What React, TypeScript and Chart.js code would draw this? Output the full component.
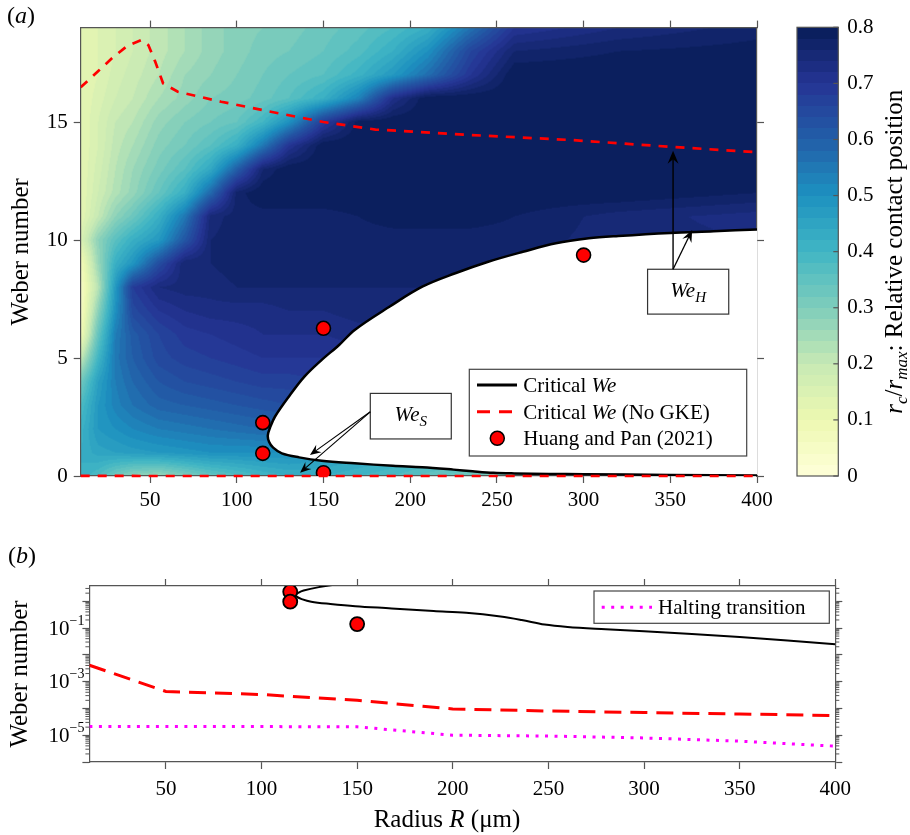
import React, { useEffect, useRef } from 'react';
import { Chart, registerables } from 'chart.js';
Chart.register(...registerables);

const SERIF = '"Liberation Serif", "Times New Roman", Times, serif';
const AXIS = '#555555';

// ---------------- data ----------------
const xTicks = [50, 100, 150, 200, 250, 300, 350, 400];
const weTicksLinear = [0, 5, 10, 15];
const logDecades = [1e-6, 1e-5, 1e-4, 1e-3, 1e-2, 1e-1, 1];
const logLabelExponents = [-1, -3, -5];
const cbTicks = [0, 0.1, 0.2, 0.3, 0.4, 0.5, 0.6, 0.7, 0.8];

// critical We curve (upper branch from R=400 to the nose, then lower branch back to R=400)
const critX = [400, 375, 350, 320, 303, 284, 265, 245, 226, 207, 188, 168, 159, 149, 139, 130, 122, 119.2, 117.9, 118.6, 121, 126, 136, 149, 168, 190, 207, 225, 236, 248, 260, 280, 300, 350, 400];
const critWe = [10.45, 10.37, 10.3, 10.17, 10.07, 9.86, 9.5, 9.08, 8.59, 8.02, 7.17, 6.19, 5.55, 4.92, 4.21, 3.36, 2.51, 2.05, 1.72, 1.45, 1.2, 0.96, 0.79, 0.65, 0.54, 0.43, 0.37, 0.27, 0.2, 0.135, 0.11, 0.09, 0.075, 0.046, 0.025];

// critical We without GKE (upper)
const noGkeUpperX = [10, 20, 28, 37, 45, 49, 53, 57.5, 66, 91, 124, 150, 180, 235, 292, 350, 400];
const noGkeUpperWe = [16.47, 17.15, 17.7, 18.23, 18.47, 18.26, 17.55, 16.64, 16.28, 15.86, 15.37, 15.0, 14.68, 14.45, 14.24, 13.95, 13.72];

// critical We without GKE (lower)
const noGkeLowerX = [10, 50, 100, 150, 200, 250, 300, 350, 400];
const noGkeLowerWe = [4.1e-3, 4.3e-4, 3.3e-4, 2.0e-4, 9.5e-5, 8.0e-5, 7.0e-5, 6.2e-5, 5.4e-5];

// halting transition
const haltX = [10, 50, 100, 150, 200, 250, 300, 350, 400];
const haltWe = [2.1e-5, 2.1e-5, 2.1e-5, 2.05e-5, 1.0e-5, 9.3e-6, 7.9e-6, 6.0e-6, 3.9e-6];

// Huang and Pan (2021)
const expX = [115, 115, 150, 150, 300];
const expWe = [2.26, 0.96, 0.14, 6.26, 9.36];

// relative contact position field r_c / r_max
const fieldX = [10, 20, 30, 40, 55, 70, 85, 100, 115, 130, 150, 170, 190, 210, 235, 260, 320, 400];
const fieldWe = [0, 1, 2, 3, 4, 5, 6, 7, 8, 9, 10, 11, 12, 13, 14, 15, 16, 17, 18, 19];
const field = [
  [.42, .38, .32, .28, .26, .30, .34, .37, .40, .42, .42, .40, .38, .35, .32, .30, .30, .30],
  [.42, .45, .46, .47, .48, .49, .50, .50, .50, .50, .48, .46, .44, .42, .40, .38, .36, .36],
  [.41, .48, .50, .52, .54, .55, .56, .57, .58, .58, .58, .58, .58, .58, .58, .58, .58, .58],
  [.38, .48, .53, .56, .59, .60, .61, .62, .63, .64, .65, .65, .65, .65, .65, .65, .65, .65],
  [.32, .46, .54, .58, .62, .64, .65, .66, .67, .67, .68, .68, .68, .68, .68, .68, .68, .68],
  [.20, .40, .55, .60, .65, .67, .68, .69, .70, .70, .70, .71, .72, .72, .72, .72, .72, .72],
  [.08, .34, .54, .61, .66, .69, .70, .71, .72, .72, .72, .73, .74, .75, .75, .75, .75, .75],
  [.05, .28, .50, .65, .70, .72, .73, .73, .73, .74, .74, .75, .75, .76, .76, .76, .76, .76],
  [.05, .22, .48, .68, .74, .75, .75, .76, .76, .76, .76, .76, .76, .76, .77, .77, .77, .77],
  [.07, .26, .42, .49, .64, .76, .76, .77, .77, .77, .77, .77, .77, .77, .77, .77, .77, .77],
  [.15, .28, .36, .42, .48, .62, .76, .77, .77, .77, .77, .77, .77, .77, .77, .77, .75, .74],
  [.12, .20, .28, .33, .42, .55, .75, .77, .77, .77, .77, .78, .79, .79, .79, .78, .75, .73],
  [.12, .18, .23, .27, .34, .42, .58, .77, .80, .80, .80, .80, .80, .80, .80, .80, .80, .78],
  [.12, .17, .22, .26, .31, .36, .44, .60, .76, .80, .80, .80, .80, .80, .80, .80, .80, .80],
  [.12, .16, .21, .24, .29, .32, .36, .42, .55, .70, .80, .80, .80, .80, .80, .80, .80, .80],
  [.12, .16, .20, .22, .27, .30, .32, .34, .40, .50, .68, .79, .80, .80, .80, .80, .80, .80],
  [.12, .15, .18, .20, .24, .27, .30, .31, .33, .36, .42, .53, .72, .80, .80, .80, .80, .80],
  [.12, .14, .17, .19, .22, .26, .28, .30, .32, .34, .36, .41, .48, .57, .70, .80, .80, .80],
  [.12, .14, .16, .18, .21, .24, .27, .29, .31, .32, .34, .37, .42, .50, .66, .76, .78, .79],
  [.12, .14, .16, .18, .21, .24, .27, .29, .30, .31, .33, .35, .38, .42, .56, .70, .74, .77],
];

// ---------------- colour map (YlGnBu, 0 .. 0.8) ----------------
const cmapHex = ['#ffffd9', '#edf8b1', '#c7e9b4', '#7fcdbb', '#41b6c4', '#1d91c0', '#225ea8', '#253494', '#081d58'];
const cmap = cmapHex.map(h => [parseInt(h.slice(1, 3), 16), parseInt(h.slice(3, 5), 16), parseInt(h.slice(5, 7), 16)]);
const CMIN = 0, CMAX = 0.8, NLEV = 40;
function colorFor(v: number): number[] {
  let lev = Math.floor(((v - CMIN) / (CMAX - CMIN)) * NLEV);
  lev = Math.max(0, Math.min(NLEV - 1, lev));
  const t = ((lev + 0.5) / NLEV) * (cmap.length - 1);
  const k = Math.min(cmap.length - 2, Math.floor(t));
  const f = t - k;
  return [0, 1, 2].map(c => Math.round(cmap[k][c] * (1 - f) + cmap[k + 1][c] * f));
}
function locate(arr: number[], v: number): [number, number] {
  let k = 0;
  while (k < arr.length - 2 && v > arr[k + 1]) k++;
  let t = (v - arr[k]) / (arr[k + 1] - arr[k]);
  t = Math.max(0, Math.min(1, t));
  return [k, t];
}

// ---------------- text helpers ----------------
type Piece = { t: string; it?: boolean; s: number; dy?: number };
function font(p: Piece) { return `${p.it ? 'italic ' : ''}${p.s}px ${SERIF}`; }
function drawRich(ctx: CanvasRenderingContext2D, pieces: Piece[], x: number, y: number, align: 'left' | 'center' | 'right') {
  let total = 0;
  for (const p of pieces) { ctx.font = font(p); total += ctx.measureText(p.t).width; }
  let cx = align === 'center' ? x - total / 2 : align === 'right' ? x - total : x;
  ctx.textAlign = 'left';
  ctx.textBaseline = 'alphabetic';
  for (const p of pieces) {
    ctx.font = font(p);
    ctx.fillText(p.t, cx, y + (p.dy || 0));
    cx += ctx.measureText(p.t).width;
  }
}
function drawArrow(ctx: CanvasRenderingContext2D, x1: number, y1: number, x2: number, y2: number, size: number, lw: number) {
  const a = Math.atan2(y2 - y1, x2 - x1);
  const c = Math.cos(a), s = Math.sin(a);
  ctx.lineWidth = lw;
  ctx.beginPath();
  ctx.moveTo(x1, y1);
  ctx.lineTo(x2 - size * 0.6 * c, y2 - size * 0.6 * s);
  ctx.stroke();
  const bx = x2 - size * c, by = y2 - size * s, w = size * 0.42;
  ctx.beginPath();
  ctx.moveTo(x2, y2);
  ctx.lineTo(bx + w * s, by - w * c);
  ctx.lineTo(x2 - size * 0.65 * c, y2 - size * 0.65 * s);
  ctx.lineTo(bx - w * s, by + w * c);
  ctx.closePath();
  ctx.fill();
}

const tickFont = { family: SERIF, size: 21 };
const pts = (xs: number[], ys: number[]) => xs.map((x, i) => ({ x, y: ys[i] }));

function fixedTicks(vals: number[]) {
  return (s: any) => { s.ticks = vals.map(v => ({ value: v })); };
}

export default function App() {
  const refA = useRef<HTMLCanvasElement>(null);
  const refCB = useRef<HTMLCanvasElement>(null);
  const refB = useRef<HTMLCanvasElement>(null);

  useEffect(() => {
    const charts: Chart[] = [];

    // ---------- panel (a) ----------
    const heatmap = {
      id: 'heatmap',
      beforeDraw(chart: any) {
        const { ctx, chartArea: a, scales } = chart;
        const xs = scales.x, ys = scales.y;
        const w = Math.round(a.right - a.left), h = Math.round(a.bottom - a.top);
        const off = document.createElement('canvas');
        off.width = w; off.height = h;
        const o = off.getContext('2d')!;
        const img = o.createImageData(w, h);
        const ci: number[] = [], ct: number[] = [];
        for (let i = 0; i < w; i++) {
          const [k, t] = locate(fieldX, xs.getValueForPixel(a.left + i + 0.5));
          ci.push(k); ct.push(t);
        }
        for (let j = 0; j < h; j++) {
          const [r, u] = locate(fieldWe, ys.getValueForPixel(a.top + j + 0.5));
          const row0 = field[r], row1 = field[r + 1];
          for (let i = 0; i < w; i++) {
            const k = ci[i], t = ct[i];
            const v0 = row0[k] * (1 - t) + row0[k + 1] * t;
            const v1 = row1[k] * (1 - t) + row1[k + 1] * t;
            const col = colorFor(v0 * (1 - u) + v1 * u);
            const p = (j * w + i) * 4;
            img.data[p] = col[0]; img.data[p + 1] = col[1]; img.data[p + 2] = col[2]; img.data[p + 3] = 255;
          }
        }
        o.putImageData(img, 0, 0);
        ctx.drawImage(off, a.left, a.top);
      },
    };

    const decorA = {
      id: 'decorA',
      afterDraw(chart: any) {
        const { ctx, scales } = chart;
        const px = (v: number) => scales.x.getPixelForValue(v);
        const py = (v: number) => scales.y.getPixelForValue(v);
        ctx.save();
        ctx.fillStyle = '#000';
        ctx.strokeStyle = '#000';
        // panel label
        drawRich(ctx, [{ t: '(', s: 24 }, { t: 'a', it: true, s: 24 }, { t: ')', s: 24 }], 7, 23, 'left');
        // y title
        ctx.save();
        ctx.translate(28, (chart.chartArea.top + chart.chartArea.bottom) / 2);
        ctx.rotate(-Math.PI / 2);
        drawRich(ctx, [{ t: 'Weber number', s: 25 }], 0, 0, 'center');
        ctx.restore();

        // We_S annotation
        const sx1 = px(177), sx2 = px(223.7), sy1 = py(3.5), sy2 = py(1.57);
        ctx.fillStyle = '#fff';
        ctx.fillRect(sx1, sy1, sx2 - sx1, sy2 - sy1);
        ctx.strokeStyle = '#333'; ctx.lineWidth = 1.2;
        ctx.strokeRect(sx1, sy1, sx2 - sx1, sy2 - sy1);
        ctx.fillStyle = '#000';
        drawRich(ctx, [{ t: 'We', it: true, s: 21 }, { t: 'S', it: true, s: 15, dy: 5 }], (sx1 + sx2) / 2, (sy1 + sy2) / 2 + 5, 'center');
        ctx.strokeStyle = '#000';
        drawArrow(ctx, sx1, py(2.72), px(142.2), py(0.89), 11, 1.1);
        drawArrow(ctx, sx1, py(2.72), px(136.5), py(0.14), 11, 1.1);

        // We_H annotation
        const hx1 = px(336.9), hx2 = px(383.7), hy1 = py(8.76), hy2 = py(6.86);
        ctx.fillStyle = '#fff';
        ctx.fillRect(hx1, hy1, hx2 - hx1, hy2 - hy1);
        ctx.strokeStyle = '#333'; ctx.lineWidth = 1.2;
        ctx.strokeRect(hx1, hy1, hx2 - hx1, hy2 - hy1);
        ctx.fillStyle = '#000';
        drawRich(ctx, [{ t: 'We', it: true, s: 21 }, { t: 'H', it: true, s: 15, dy: 5 }], (hx1 + hx2) / 2, (hy1 + hy2) / 2 + 5, 'center');
        ctx.strokeStyle = '#000';
        drawArrow(ctx, px(351.6), hy1, px(351.6), py(13.78), 13, 1.4);
        drawArrow(ctx, px(351.6), hy1, px(362.6), py(10.42), 12, 1.3);

        // legend
        const lx = 469.3, ly = 369.3, lw = 277.4, lh = 86.7;
        ctx.fillStyle = '#fff';
        ctx.fillRect(lx, ly, lw, lh);
        ctx.strokeStyle = '#444'; ctx.lineWidth = 1.2;
        ctx.strokeRect(lx, ly, lw, lh);
        const rows = [385, 411.7, 438.3];
        ctx.strokeStyle = '#000'; ctx.lineWidth = 3;
        ctx.beginPath(); ctx.moveTo(477, rows[0]); ctx.lineTo(517, rows[0]); ctx.stroke();
        ctx.strokeStyle = '#ff0000'; ctx.lineWidth = 3;
        ctx.setLineDash([13, 9]);
        ctx.beginPath(); ctx.moveTo(477, rows[1]); ctx.lineTo(517, rows[1]); ctx.stroke();
        ctx.setLineDash([]);
        ctx.fillStyle = '#ff0000'; ctx.strokeStyle = '#000'; ctx.lineWidth = 1.5;
        ctx.beginPath(); ctx.arc(497.3, rows[2], 7, 0, Math.PI * 2); ctx.fill(); ctx.stroke();
        ctx.fillStyle = '#000';
        drawRich(ctx, [{ t: 'Critical ', s: 21 }, { t: 'We', it: true, s: 21 }], 523.3, rows[0] + 7, 'left');
        drawRich(ctx, [{ t: 'Critical ', s: 21 }, { t: 'We', it: true, s: 21 }, { t: ' (No GKE)', s: 21 }], 523.3, rows[1] + 7, 'left');
        drawRich(ctx, [{ t: 'Huang and Pan (2021)', s: 21 }], 523.3, rows[2] + 7, 'left');
        ctx.restore();
      },
    };

    const axisCommon = {
      grid: { drawOnChartArea: false, tickLength: 7, color: AXIS, tickWidth: 1.2 },
      border: { color: AXIS, width: 1.2 },
    };

    charts.push(new Chart(refA.current!, {
      type: 'line',
      data: {
        datasets: [
          {
            label: 'Critical We', data: pts(critX, critWe), xAxisID: 'x', yAxisID: 'y',
            borderColor: '#000', borderWidth: 2.5, pointRadius: 0, tension: 0.35,
            fill: 'shape', backgroundColor: '#ffffff', order: 3,
          } as any,
          {
            label: 'Critical We (No GKE)', data: pts(noGkeUpperX, noGkeUpperWe), xAxisID: 'x', yAxisID: 'y',
            borderColor: '#ff0000', borderWidth: 2.7, borderDash: [9, 8], pointRadius: 0, tension: 0, fill: false, order: 2,
          },
          {
            label: 'Critical We (No GKE) lower', data: pts(noGkeLowerX, noGkeLowerWe), xAxisID: 'x', yAxisID: 'y',
            borderColor: '#ff0000', borderWidth: 2.7, borderDash: [9, 8], pointRadius: 0, tension: 0, fill: false, order: 2, clip: 4,
          } as any,
          {
            label: 'Huang and Pan (2021)', data: pts(expX, expWe), xAxisID: 'x', yAxisID: 'y',
            showLine: false, pointRadius: 7, pointHoverRadius: 7, pointBackgroundColor: '#ff0000',
            pointBorderColor: '#000', pointBorderWidth: 1.6, order: 0,
          },
        ],
      },
      options: {
        animation: false, responsive: false, maintainAspectRatio: false,
        layout: { padding: 0 },
        events: [],
        plugins: { legend: { display: false }, tooltip: { enabled: false } },
        scales: {
          x: {
            type: 'linear', axis: 'x', position: 'bottom', min: 10, max: 400, z: 0,
            afterBuildTicks: fixedTicks(xTicks), afterFit: (s: any) => { s.height = 39; },
            ticks: { font: tickFont, color: '#000', padding: 5, maxRotation: 0, autoSkip: false },
            ...axisCommon,
          },
          xTop: {
            type: 'linear', axis: 'x', position: 'top', min: 10, max: 400, z: 0,
            afterBuildTicks: fixedTicks(xTicks), afterFit: (s: any) => { s.height = 27.6; },
            ticks: { display: false },
            ...axisCommon,
          },
          y: {
            type: 'linear', axis: 'y', position: 'left', min: 0, max: 19, z: 0,
            afterBuildTicks: fixedTicks(weTicksLinear), afterFit: (s: any) => { s.width = 80.7; },
            ticks: { font: tickFont, color: '#000', padding: 6 },
            ...axisCommon,
          },
          yR: {
            type: 'linear', axis: 'y', position: 'right', min: 0, max: 19, z: 1,
            afterBuildTicks: fixedTicks(weTicksLinear), afterFit: (s: any) => { s.width = 23; },
            ticks: { display: false },
            ...axisCommon,
          },
        } as any,
      },
      plugins: [heatmap, decorA],
    } as any));

    // ---------- colour bar ----------
    const cbPlugin = {
      id: 'cb',
      beforeDraw(chart: any) {
        const { ctx, chartArea: a, scales } = chart;
        const ys = scales.y;
        ctx.save();
        for (let p = Math.floor(a.top); p < Math.ceil(a.bottom); p++) {
          const c = colorFor(ys.getValueForPixel(p + 0.5));
          ctx.fillStyle = `rgb(${c[0]},${c[1]},${c[2]})`;
          const top = Math.max(p, a.top), bot = Math.min(p + 1, a.bottom);
          ctx.fillRect(a.left, top, a.right - a.left, bot - top);
        }
        ctx.restore();
      },
      afterDraw(chart: any) {
        const { ctx, chartArea: a, scales } = chart;
        const ys = scales.y;
        ctx.save();
        ctx.strokeStyle = AXIS; ctx.lineWidth = 1.2;
        ctx.strokeRect(a.left, a.top, a.right - a.left, a.bottom - a.top);
        for (const v of cbTicks) {
          const y = ys.getPixelForValue(v);
          ctx.beginPath(); ctx.moveTo(a.right - 5, y); ctx.lineTo(a.right, y); ctx.stroke();
        }
        ctx.fillStyle = '#000';
        ctx.translate(122, (a.top + a.bottom) / 2);
        ctx.rotate(-Math.PI / 2);
        drawRich(ctx, [
          { t: 'r', it: true, s: 25 }, { t: 'c', it: true, s: 17, dy: 5 }, { t: '/', s: 25 },
          { t: 'r', it: true, s: 25 }, { t: 'max', it: true, s: 17, dy: 5 },
          { t: ': Relative contact position', s: 25 },
        ], 0, 0, 'center');
        ctx.restore();
      },
    };
    charts.push(new Chart(refCB.current!, {
      type: 'scatter',
      data: { datasets: [] },
      options: {
        animation: false, responsive: false, maintainAspectRatio: false,
        events: [],
        layout: { padding: { left: 17, top: 27.3, bottom: 39, right: 0 } },
        plugins: { legend: { display: false }, tooltip: { enabled: false } },
        scales: {
          x: { type: 'linear', display: false, min: 0, max: 1 },
          y: {
            type: 'linear', position: 'right', min: 0, max: 0.8,
            afterBuildTicks: fixedTicks(cbTicks), afterFit: (s: any) => { s.width = 71.7; },
            ticks: { font: tickFont, color: '#000', padding: 9, callback: (v: any) => (v === 0 ? '0' : Number(v).toFixed(1)) },
            grid: { display: false, drawTicks: false },
            border: { display: false },
          },
        } as any,
      },
      plugins: [cbPlugin],
    } as any));

    // ---------- panel (b) ----------
    const LOGMAX = 3.7, LOGMIN = 1e-6;
    const decorB = {
      id: 'decorB',
      afterDraw(chart: any) {
        const { ctx, chartArea: a, scales } = chart;
        ctx.save();
        // minor ticks on both log axes
        ctx.strokeStyle = AXIS; ctx.lineWidth = 1;
        for (const id of ['y', 'yR']) {
          const s = scales[id];
          for (const d of logDecades) {
            for (let k = 2; k <= 9; k++) {
              const v = k * d;
              if (v < LOGMIN || v > LOGMAX) continue;
              const y = s.getPixelForValue(v);
              ctx.beginPath();
              if (id === 'y') { ctx.moveTo(a.left - 4, y); ctx.lineTo(a.left, y); }
              else { ctx.moveTo(a.right, y); ctx.lineTo(a.right + 4, y); }
              ctx.stroke();
            }
          }
        }
        // log tick labels 10^e
        ctx.fillStyle = '#000';
        for (const e of logLabelExponents) {
          const y = scales.y.getPixelForValue(Math.pow(10, e));
          const sup = '\u2212' + Math.abs(e);
          ctx.font = `14px ${SERIF}`;
          const ws = ctx.measureText(sup).width;
          ctx.textAlign = 'right'; ctx.textBaseline = 'alphabetic';
          ctx.fillText(sup, 84.5, y - 3.5);
          ctx.font = `21px ${SERIF}`;
          ctx.fillText('10', 84.5 - ws, y + 6.5);
        }
        // titles
        drawRich(ctx, [{ t: '(', s: 24 }, { t: 'b', it: true, s: 24 }, { t: ')', s: 24 }], 8, 42.5, 'left');
        drawRich(ctx, [{ t: 'Radius ', s: 25 }, { t: 'R', it: true, s: 25 }, { t: ' (\u03bcm)', s: 25 }], 447, 307, 'center');
        ctx.save();
        ctx.translate(26.5, (a.top + a.bottom) / 2);
        ctx.rotate(-Math.PI / 2);
        drawRich(ctx, [{ t: 'Weber number', s: 25 }], 0, 0, 'center');
        ctx.restore();
        // legend
        const lx = 594, ly = 71, lw = 235.3, lh = 32.3;
        ctx.fillStyle = '#fff';
        ctx.fillRect(lx, ly, lw, lh);
        ctx.strokeStyle = '#444'; ctx.lineWidth = 1.2;
        ctx.strokeRect(lx, ly, lw, lh);
        ctx.strokeStyle = '#ff00ff'; ctx.lineWidth = 3; ctx.setLineDash([3, 6.5]);
        ctx.beginPath(); ctx.moveTo(601.7, ly + lh / 2); ctx.lineTo(652, ly + lh / 2); ctx.stroke();
        ctx.setLineDash([]);
        ctx.fillStyle = '#000';
        drawRich(ctx, [{ t: 'Halting transition', s: 21 }], 658, ly + lh / 2 + 7, 'left');
        ctx.restore();
      },
    };

    const expB = pts(expX, expWe).filter(p => p.y < LOGMAX);
    charts.push(new Chart(refB.current!, {
      type: 'line',
      data: {
        datasets: [
          {
            label: 'Critical We', data: pts(critX, critWe), xAxisID: 'x', yAxisID: 'y',
            borderColor: '#000', borderWidth: 2, pointRadius: 0, tension: 0.35, fill: false, order: 3,
          },
          {
            label: 'Critical We (No GKE)', data: pts(noGkeLowerX, noGkeLowerWe), xAxisID: 'x', yAxisID: 'y',
            borderColor: '#ff0000', borderWidth: 3, borderDash: [17, 9], pointRadius: 0, tension: 0, fill: false, order: 2,
          },
          {
            label: 'Halting transition', data: pts(haltX, haltWe), xAxisID: 'x', yAxisID: 'y',
            borderColor: '#ff00ff', borderWidth: 3, borderDash: [3, 6.5], pointRadius: 0, tension: 0, fill: false, order: 2,
          },
          {
            label: 'Huang and Pan (2021)', data: expB, xAxisID: 'x', yAxisID: 'y',
            showLine: false, pointRadius: 7, pointHoverRadius: 7, pointBackgroundColor: '#ff0000',
            pointBorderColor: '#000', pointBorderWidth: 1.8, order: 0,
          },
        ],
      },
      options: {
        animation: false, responsive: false, maintainAspectRatio: false,
        layout: { padding: 0 },
        events: [],
        plugins: { legend: { display: false }, tooltip: { enabled: false } },
        scales: {
          x: {
            type: 'linear', axis: 'x', position: 'bottom', min: 10, max: 400,
            afterBuildTicks: fixedTicks(xTicks), afterFit: (s: any) => { s.height = 73; },
            ticks: { font: tickFont, color: '#000', padding: 8, maxRotation: 0, autoSkip: false },
            ...axisCommon,
          },
          xTop: {
            type: 'linear', axis: 'x', position: 'top', min: 10, max: 400,
            afterBuildTicks: fixedTicks(xTicks), afterFit: (s: any) => { s.height = 66; },
            ticks: { display: false },
            ...axisCommon,
          },
          y: {
            type: 'logarithmic', axis: 'y', position: 'left', min: LOGMIN, max: LOGMAX,
            afterBuildTicks: fixedTicks(logDecades), afterFit: (s: any) => { s.width = 89.4; },
            ticks: { display: false },
            ...axisCommon,
          },
          yR: {
            type: 'logarithmic', axis: 'y', position: 'right', min: LOGMIN, max: LOGMAX,
            afterBuildTicks: fixedTicks(logDecades), afterFit: (s: any) => { s.width = 74.7; },
            ticks: { display: false },
            ...axisCommon,
          },
        } as any,
      },
      plugins: [decorB],
    } as any));

    return () => { charts.forEach(c => c.destroy()); };
  }, []);

  return (
    <div style={{ position: 'absolute', left: 0, top: 0, width: 910, height: 835, background: '#fff' }}>
      <canvas ref={refA} width={780} height={515} style={{ position: 'absolute', left: 0, top: 0, width: 780, height: 515 }} />
      <canvas ref={refCB} width={130} height={515} style={{ position: 'absolute', left: 780, top: 0, width: 130, height: 515 }} />
      <canvas ref={refB} width={910} height={315} style={{ position: 'absolute', left: 0, top: 520, width: 910, height: 315 }} />
    </div>
  );
}
